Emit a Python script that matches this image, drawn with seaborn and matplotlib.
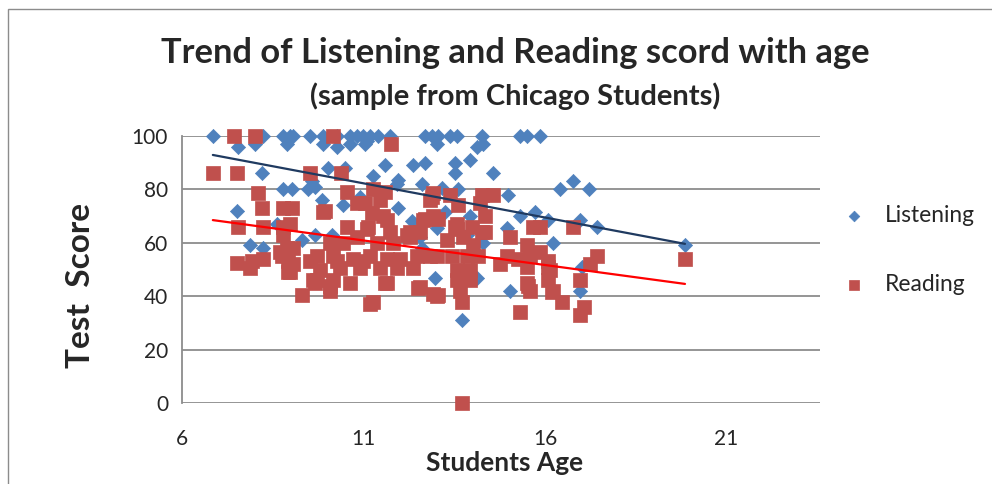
import pandas as pd
import matplotlib.pyplot as plt
from matplotlib.patches import Rectangle
import seaborn as sns

# Listening scores (blue diamonds)
listening_age = [6.85, 8.23, 8.78, 8.98, 9.53, 9.88, 10.27, 10.63, 10.82, 10.99,
                 11.18, 11.40, 11.73, 12.69, 12.89, 13.05, 13.38, 13.58, 14.26, 15.31,
                 15.50, 15.86, 9.06, 7.54, 8.01, 8.89, 9.88, 10.27, 10.63, 11.04,
                 11.10, 13.02, 14.13, 14.29, 11.59, 12.36, 12.69, 13.52, 13.93, 10.02,
                 10.49, 8.20, 13.52, 14.57, 11.26, 11.95, 12.61, 13.16, 13.60, 14.98,
                 8.78, 9.03, 9.47, 9.66, 16.41, 16.77, 17.21, 9.86, 10.44, 10.90,
                 11.95, 7.52, 12.34, 13.93, 15.31, 15.72, 16.08, 16.96, 17.43, 14.95,
                 13.02, 13.25, 8.62, 9.31, 9.66, 10.13, 12.56, 13.85, 16.22, 14.29,
                 7.87, 8.23, 19.86, 12.61, 12.97, 13.71, 15.04, 14.13, 16.96, 17.02,
                 11.92, 9.58]
listening_score = [100, 100, 100, 100, 100, 100, 100, 100, 100, 100,
                   100, 100, 100, 100, 100, 100, 100, 100, 100, 100,
                   100, 100, 100, 96, 97, 97, 97, 96, 97, 97,
                   98, 97, 96, 97, 89, 89, 90, 90, 91, 88,
                   88, 86, 86, 86, 85, 83.5, 82, 80.5, 80, 78,
                   80, 80, 80, 81, 80, 83, 80, 76, 74, 77,
                   73, 72, 68, 70, 70, 71.5, 68.5, 68.5, 66, 65.5,
                   65.5, 71.5, 67, 61, 63, 63, 62, 63, 60, 60,
                   59, 58, 59, 58, 47, 31, 42, 47, 42, 51,
                   82, 83]

# Reading scores (red squares)
reading_age = [7.43, 8.01, 10.16, 11.76, 6.85, 7.52, 9.53, 10.38, 8.09, 8.20,
               8.78, 9.03, 9.94, 7.54, 8.23, 8.78, 8.98, 8.78, 8.89, 9.06,
               8.70, 8.23, 7.52, 7.87, 8.75, 8.92, 8.98, 9.53, 9.61, 9.31,
               9.66, 10.08, 10.63, 11.18, 11.59, 12.50, 13.02, 13.71, 13.71, 13.66,
               15.31, 15.53, 16.08, 16.08, 16.22, 16.47, 16.96, 17.07, 16.96, 17.24,
               17.43, 19.86, 16.77, 15.86, 11.26, 11.59, 12.89, 13.38, 14.26, 14.57,
               13.60, 14.35, 12.69, 13.05, 11.65, 13.52, 13.99, 15.67, 15.04, 15.50,
               15.86, 12.56, 12.20, 11.04, 11.45, 11.54, 11.10, 13.58, 14.35, 9.88,
               10.55, 10.82, 11.23, 10.55, 11.12, 11.73, 12.28, 12.64, 12.91, 12.83,
               10.08, 10.44, 10.82, 11.37, 11.81, 12.28, 9.72, 10.16, 10.71, 11.18,
               11.65, 12.01, 12.47, 12.83, 9.80, 10.35, 10.90, 11.45, 11.92, 12.36,
               9.72, 10.16, 11.65, 12.56, 12.91, 10.08, 11.26, 12.91, 14.21, 13.58,
               14.26, 13.30, 13.74, 14.02, 13.02, 13.44, 13.85, 14.15, 14.95, 15.26,
               15.59, 16.08, 13.58, 13.93, 14.76, 15.50, 16.14, 13.58, 13.93, 13.05,
               15.50, 15.59, 16.19, 7.93, 9.06, 10.27, 10.99, 8.92]
reading_score = [100, 100, 100, 97, 86, 86, 86, 86, 78.5, 73,
                 73, 73, 72, 66, 66, 66, 67, 63, 58, 58,
                 56.5, 54, 52.5, 50.5, 55, 53, 49, 53, 46, 40.5,
                 45, 44, 45, 37, 45, 43, 40, 0, 38, 42,
                 34, 44, 51, 46, 42, 38, 46, 36, 33, 52,
                 55, 54, 66, 66, 80, 79, 77, 78, 78, 78,
                 74, 70, 69, 69, 68.5, 66, 66, 66, 62, 59,
                 56.5, 64, 63, 75, 76, 70, 65, 65, 64, 71.5,
                 79, 75, 71, 66, 66, 64, 64, 68.5, 70, 76,
                 60, 60, 62, 60, 60, 62, 55, 55, 54, 55,
                 54, 54, 55, 55, 50, 50.5, 50.5, 50.5, 50.5, 50.5,
                 46, 46, 45, 43.5, 41, 42, 38, 78.6, 75, 67,
                 64, 61, 62, 59, 55, 55, 55, 55, 55, 54,
                 55, 53, 50, 50, 52, 51, 50, 46, 46, 40.5,
                 45, 42, 41.5, 53, 52, 53, 53, 49]

# Linear trend lines as drawn in the chart (value at youngest and oldest age)
trend_age = [6.85, 19.86]
listening_trend = [92.9, 59.6]
reading_trend = [68.5, 44.6]

x_ticks = [6, 11, 16, 21]
y_ticks = [0, 20, 40, 60, 80, 100]

df_listen = pd.DataFrame({"Age": listening_age, "Score": listening_score})
df_read = pd.DataFrame({"Age": reading_age, "Score": reading_score})

sns.set_style("white")
plt.rcParams["font.family"] = ["Lato", "DejaVu Sans"]

fig = plt.figure(figsize=(9.92, 4.84), dpi=100)
ax = fig.add_axes([182 / 992, 81 / 484, 638 / 992, 267 / 484])

blue = "#4F81BD"
red = "#C0504D"

sns.scatterplot(x="Age", y="Score", data=df_listen, marker="D", s=52, color=blue,
                edgecolor=blue, linewidth=0.5, ax=ax, label="Listening", zorder=3, clip_on=False)
sns.scatterplot(x="Age", y="Score", data=df_read, marker="s", s=108, color=red,
                edgecolor=red, linewidth=0.5, ax=ax, label="Reading", zorder=4, clip_on=False)

sns.lineplot(x=trend_age, y=listening_trend, color="#1F3A60", lw=1.6, zorder=5, ax=ax)
sns.lineplot(x=trend_age, y=reading_trend, color="#FF0000", lw=1.6, zorder=5, ax=ax)

ax.set_xlim(6, 23.58)
ax.set_ylim(0, 100)
ax.set_xticks(x_ticks)
ax.set_yticks(y_ticks)
ax.tick_params(axis="y", labelsize=15, pad=10, length=0)
ax.tick_params(axis="x", labelsize=15, pad=18.5, length=0)
ax.set_xlabel("")
ax.set_ylabel("")

ax.grid(axis="y", color="#8C8C8C", lw=1.3)
ax.set_axisbelow(True)
for side in ["top", "right", "bottom"]:
    ax.spines[side].set_visible(False)
ax.spines["left"].set_color("#8C8C8C")
ax.spines["left"].set_linewidth(1.3)

fig.text(515 / 992, 1 - 53 / 484, "Trend of Listening and Reading scord with age",
         ha="center", va="center", fontsize=24.8, fontweight="bold")
fig.text(515 / 992, 1 - 96 / 484, "(sample from Chicago Students)",
         ha="center", va="center", fontsize=21, fontweight="bold")
fig.text(80 / 992, 1 - 286 / 484, "Test  Score", rotation=90,
         ha="center", va="center", fontsize=24, fontweight="bold")
fig.text(505 / 992, 1 - 463 / 484, "Students Age",
         ha="center", va="center", fontsize=19, fontweight="bold")

# Legend
handles, labels = ax.get_legend_handles_labels()
leg = ax.legend(handles[:2], labels[:2], loc="center left",
                bbox_to_anchor=(843 / 992, 1 - 250 / 484),
                bbox_transform=fig.transFigure, frameon=False, fontsize=16.4,
                markerscale=0.75, labelspacing=2.08, handlelength=1.0,
                handletextpad=0.85, borderpad=0, borderaxespad=0)

# Chart area border
fig.add_artist(Rectangle((8 / 992, -0.1), 1.2, 1.1 - 9 / 484, transform=fig.transFigure,
                         fill=False, edgecolor="#8C8C8C", lw=1))

plt.savefig("out.png", dpi=100)
